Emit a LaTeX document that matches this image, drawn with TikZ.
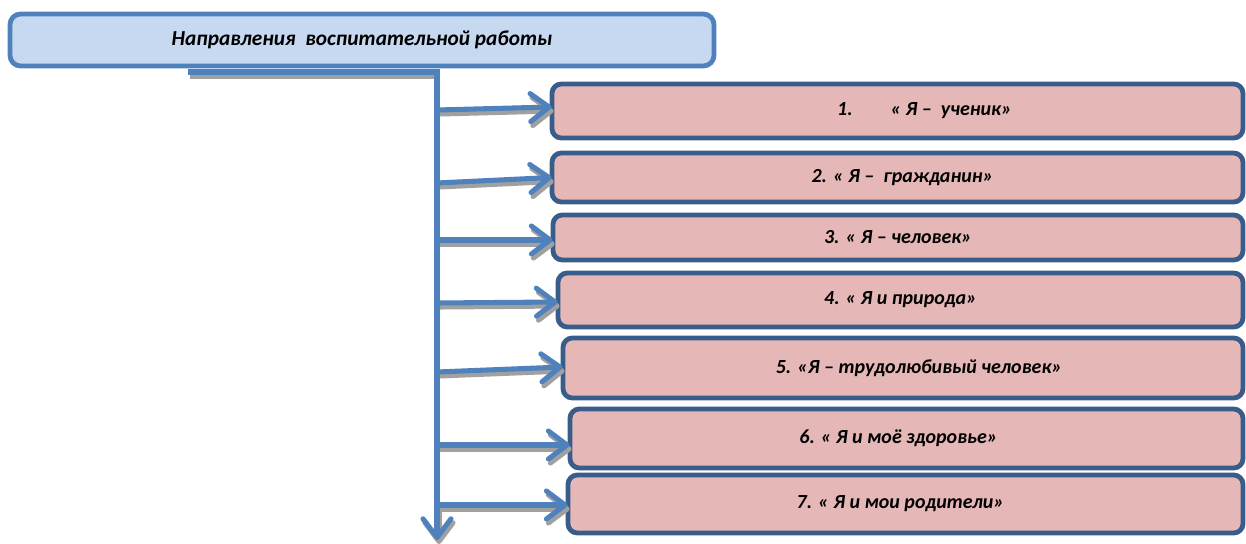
\documentclass[tikz,border=0pt]{standalone}
\usepackage{fontspec}
\setmainfont{Carlito}
\usetikzlibrary{arrows.meta,calc}
\definecolor{lineblue}{RGB}{79,129,189}
\definecolor{boxborder}{RGB}{56,93,138}
\definecolor{pinkfill}{RGB}{229,184,183}
\definecolor{bluefill}{RGB}{198,217,241}
\definecolor{shadowgray}{RGB}{160,160,160}
\begin{document}
\begin{tikzpicture}[x=0.75pt,y=-0.75pt,
  conn/.style={draw=lineblue, line width=3.8pt},
  shad/.style={draw=shadowgray, line width=3.8pt},
  tip/.style={-{Straight Barb[length=14pt,width=21pt,round]}},
  dirbox/.style={draw=boxborder, line width=3.6pt, fill=pinkfill, rounded corners=7pt, inner sep=0pt},
  topbox/.style={draw=lineblue, line width=3.6pt, fill=bluefill, rounded corners=8pt, inner sep=0pt,
    font=\bfseries\itshape\fontsize{16}{19}\selectfont},
  lbl/.style={font=\bfseries\itshape\fontsize{15}{18}\selectfont, inner sep=0pt}]
\useasboundingbox (0,0) rectangle (1246,543);

% top box
\node[topbox, minimum width=704*0.75pt, minimum height=52*0.75pt] (top) at (362,40)
  {Направления\ \ воспитательной работы};

% direction boxes
\node[dirbox, minimum width=691*0.75pt, minimum height=54*0.75pt] (b1) at (897.5,111) {};
\node[dirbox, minimum width=691*0.75pt, minimum height=49*0.75pt] (b2) at (897.5,177.5) {};
\node[dirbox, minimum width=690*0.75pt, minimum height=45*0.75pt] (b3) at (898,237.5) {};
\node[dirbox, minimum width=685*0.75pt, minimum height=54*0.75pt] (b4) at (900.5,300) {};
\node[dirbox, minimum width=680*0.75pt, minimum height=60*0.75pt] (b5) at (903,368) {};
\node[dirbox, minimum width=673*0.75pt, minimum height=59*0.75pt] (b6) at (906.5,438.5) {};
\node[dirbox, minimum width=675*0.75pt, minimum height=58*0.75pt] (b7) at (905.5,504) {};

\node[lbl] (t1) at ($(b1.center)+(27,0)$) {1.\hspace{1.9em}« Я –\ \ ученик»};
\node[lbl] (t2) at ($(b2.center)+(5,0)$) {2. « Я –\ \ гражданин»};
\node[lbl] (t3) at ($(b3.center)+(0,0)$) {3. « Я – человек»};
\node[lbl] (t4) at ($(b4.center)+(0,0)$) {4. « Я и природа»};
\node[lbl] (t5) at ($(b5.center)+(16,0)$) {5. «Я – трудолюбивый человек»};
\node[lbl] (t6) at ($(b6.center)+(-8,0)$) {6. « Я и моё здоровье»};
\node[lbl] (t7) at ($(b7.center)+(-5,0)$) {7. « Я и мои родители»};

% connector points
\coordinate (start) at (188,72);
\coordinate (corner) at (437,72);
\coordinate (end) at (437,540);
\coordinate (s1) at (437,110);
\coordinate (s2) at (437,183);
\coordinate (s3) at (437,240);
\coordinate (s4) at (437,303);
\coordinate (s5) at (437,372);
\coordinate (s6) at (437,445);
\coordinate (s7) at (437,505);
\coordinate (e1) at ($(b1.west)+(2,-4)$);
\coordinate (e2) at ($(b2.west)+(2,0)$);
\coordinate (e3) at ($(b3.west)+(2,2.5)$);
\coordinate (e4) at ($(b4.west)+(2,2)$);
\coordinate (e5) at ($(b5.west)+(2,-1)$);
\coordinate (e6) at ($(b6.west)+(2,6.5)$);
\coordinate (e7) at ($(b7.west)+(2,1)$);
\coordinate (endpre) at (437,500);

% shadows
\begin{scope}[transform canvas={xshift=1.5pt,yshift=-3pt}]
  \draw[shad] (start) -- (corner);
  \foreach \i in {1,...,7} { \draw[shad,tip] (s\i) -- (e\i); }
  \draw[shad,tip] (endpre) -- (end);
\end{scope}

% connectors
\draw[conn,tip] (start) -- (corner) -- (end);
\foreach \i in {1,...,7} { \draw[conn,tip] (s\i) -- (e\i); }
\end{tikzpicture}
\end{document}
